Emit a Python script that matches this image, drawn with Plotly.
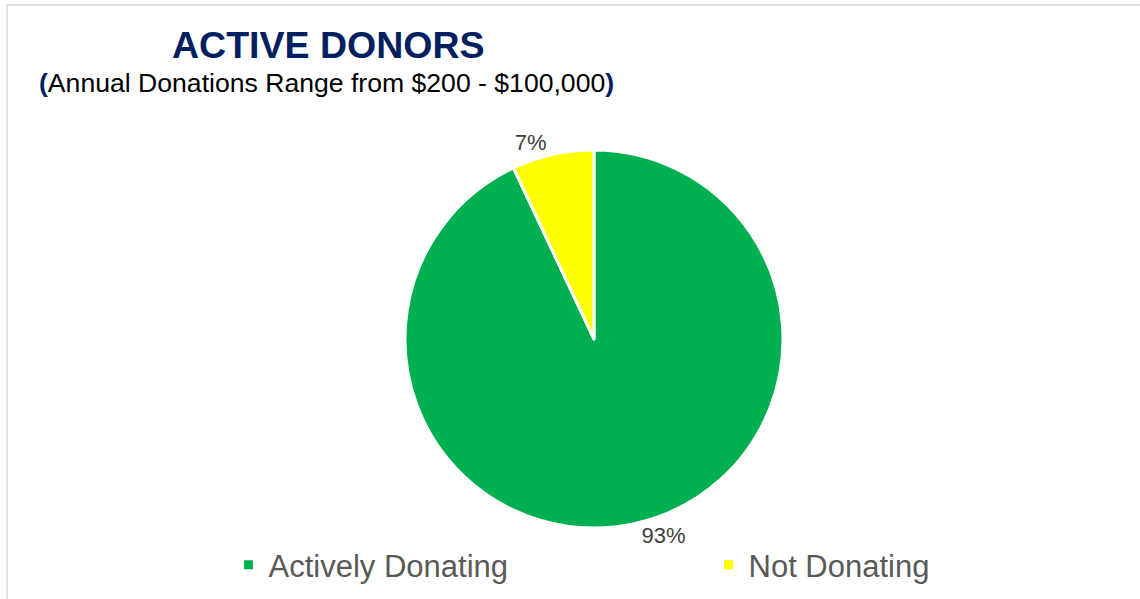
import plotly.graph_objects as go

labels = ['Actively Donating', 'Not Donating']
values = [93, 7]
colors = ['#00B050', '#FFFF00']

W, H = 1140, 599
FONT = 'Liberation Sans, Arial, sans-serif'
NAVY = '#002060'

# pie centre ~(594, 339), radius ~189 px
cx, cy, r = 594, 339, 189

fig = go.Figure(go.Pie(
    labels=labels,
    values=values,
    sort=False,
    direction='clockwise',
    rotation=0,
    marker=dict(colors=colors, line=dict(color='white', width=3)),
    textinfo='percent',
    texttemplate='%{percent:.0%}',
    textposition='outside',
    outsidetextfont=dict(color='#404040', size=22, family=FONT),
    domain=dict(x=[(cx - r) / W, (cx + r) / W], y=[1 - (cy + r) / H, 1 - (cy - r) / H]),
    automargin=False,
    showlegend=True,
    hoverinfo='label+percent',
))

fig.update_layout(
    width=W, height=H,
    margin=dict(t=0, b=0, l=0, r=0, autoexpand=False),
    paper_bgcolor='white',
    plot_bgcolor='white',
    font=dict(family=FONT, color='#595959'),
    legend=dict(
        orientation='h',
        x=0.6215, xanchor='center',
        y=1 - 565 / H, yanchor='middle',
        font=dict(size=31, color='#595959', family=FONT),
        entrywidth=435,
        bgcolor='rgba(0,0,0,0)',
    ),
    shapes=[dict(
        type='rect', xref='paper', yref='paper',
        x0=7 / W, x1=1.02, y0=-0.02, y1=1 - 5 / H,
        line=dict(color='#D9D9D9', width=1.5),
    )],
    annotations=[
        dict(text='<b>ACTIVE DONORS</b>', xref='paper', yref='paper',
             x=328 / W, y=1 - 45 / H, xanchor='center', yanchor='middle',
             showarrow=False, font=dict(size=37.5, color=NAVY, family=FONT)),
        dict(text='<b><span style="color:#002060">(</span></b>Annual Donations Range from $200 - $100,000'
                  '<b><span style="color:#002060">)</span></b>',
             xref='paper', yref='paper',
             x=326 / W, y=1 - 83 / H, xanchor='center', yanchor='middle',
             showarrow=False, font=dict(size=26.6, color='#000000', family=FONT)),
    ],
)

fig.write_html('out.html', config={'displayModeBar': False},
               post_script="document.body.style.margin='0';")
